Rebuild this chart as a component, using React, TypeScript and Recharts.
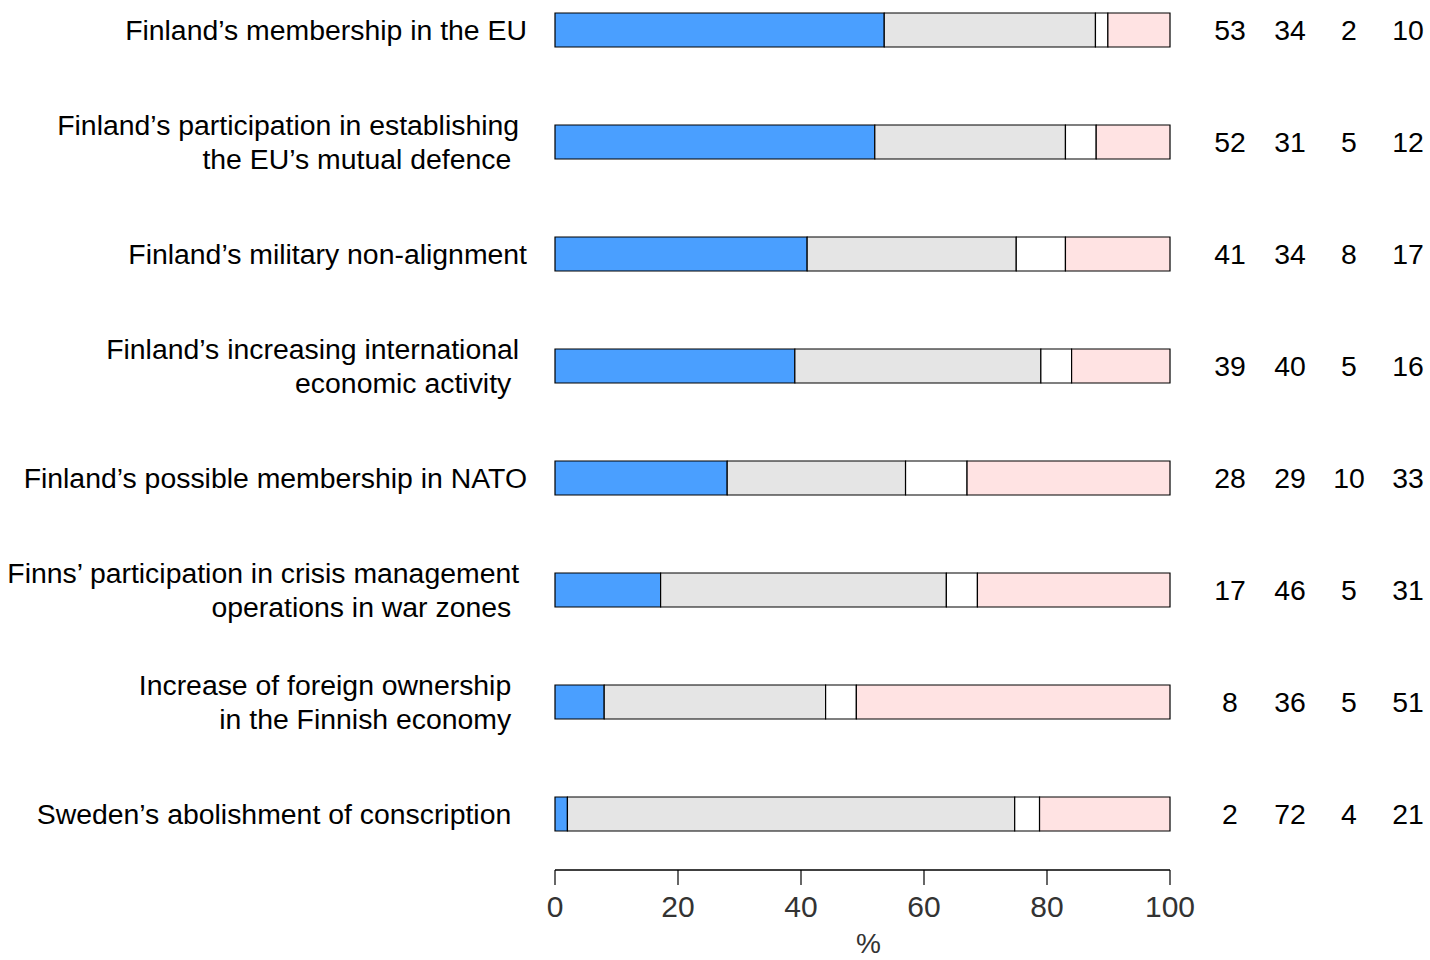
import { Bar, BarChart, LabelList, XAxis, YAxis } from 'recharts'

// trailing no-break spaces keep the uneven right edge of the original labels
const NB = '\u00A0'

const categories = [
  'Finland’s membership in the EU',
  `Finland’s participation in establishing${NB}\nthe EU’s mutual defence${NB}${NB}`,
  'Finland’s military non-alignment',
  `Finland’s increasing international${NB}\neconomic activity${NB}${NB}`,
  'Finland’s possible membership in NATO',
  `Finns’ participation in crisis management${NB}\noperations in war zones${NB}${NB}`,
  `Increase of foreign ownership${NB}${NB}\nin the Finnish economy${NB}${NB}`,
  `Sweden’s abolishment of conscription${NB}${NB}`,
]

const positive = [53, 52, 41, 39, 28, 17, 8, 2]
const neutral = [34, 31, 34, 40, 29, 46, 36, 72]
const cantSay = [2, 5, 8, 5, 10, 5, 5, 4]
const negative = [10, 12, 17, 16, 33, 31, 51, 21]

const xTicks = [0, 20, 40, 60, 80, 100]

const series = [
  { key: 'positive', values: positive, color: '#4A9FFF' },
  { key: 'neutral', values: neutral, color: '#E5E5E5' },
  { key: 'cantSay', values: cantSay, color: '#FFFFFF' },
  { key: 'negative', values: negative, color: '#FFE3E3' },
]

const data = categories.map((label, i) => ({
  label,
  positive: positive[i],
  neutral: neutral[i],
  cantSay: cantSay[i],
  negative: negative[i],
}))

const FONT = '"Liberation Sans", Arial, Helvetica, sans-serif'
const TEXT_SIZE = 28.4
const colX = [1230, 1290, 1349, 1408]

function CategoryTick(props: any) {
  const { x, y, payload } = props
  const lines = String(payload.value).split('\n')
  const lh = 34
  const start = (-(lines.length - 1) * lh) / 2
  return (
    <text x={x} y={y} textAnchor="end" fontSize={TEXT_SIZE} fill="#000" fontFamily={FONT}>
      {lines.map((l, i) => (
        <tspan key={i} x={x} y={y + start + i * lh} dy="0.35em">
          {l}
        </tspan>
      ))}
    </text>
  )
}

function numberLabel(col: number, values: number[]) {
  return (props: any) => {
    const { y, height, index } = props
    return (
      <text
        x={colX[col]}
        y={Number(y) + Number(height) / 2}
        dy="0.35em"
        textAnchor="middle"
        fontSize={TEXT_SIZE}
        fill="#000"
        fontFamily={FONT}
      >
        {values[index]}
      </text>
    )
  }
}

export default function App() {
  return (
    <div style={{ position: 'absolute', left: 0, top: 0, width: 1430, height: 960, background: '#fff' }}>
      <BarChart
        width={1430}
        height={960}
        data={data}
        layout="vertical"
        stackOffset="expand"
        barSize={34}
        margin={{ top: -26, right: 260, bottom: 0, left: 0 }}
      >
        <XAxis
          type="number"
          domain={[0, 1]}
          ticks={xTicks.map(t => t / 100)}
          tickFormatter={v => String(Math.round(v * 100))}
          axisLine={{ stroke: '#000', strokeWidth: 1.6 }}
          tickLine={{ stroke: '#000', strokeWidth: 1.2 }}
          tickSize={15}
          tickMargin={11}
          tick={{ fontSize: 30, fill: '#333', fontFamily: FONT }}
          height={90}
          label={{ value: '%', position: 'insideBottom', offset: 7, dx: 6, fontSize: 28, fill: '#333', fontFamily: FONT }}
        />
        <YAxis
          type="category"
          dataKey="label"
          width={555}
          axisLine={false}
          tickLine={false}
          tickSize={0}
          tickMargin={28}
          interval={0}
          tick={<CategoryTick />}
        />
        {series.map((s, i) => (
          <Bar
            key={s.key}
            dataKey={s.key}
            stackId="a"
            fill={s.color}
            stroke="#000"
            strokeWidth={1.2}
            isAnimationActive={false}
          >
            <LabelList dataKey={s.key} content={numberLabel(i, s.values)} />
          </Bar>
        ))}
      </BarChart>
    </div>
  )
}
